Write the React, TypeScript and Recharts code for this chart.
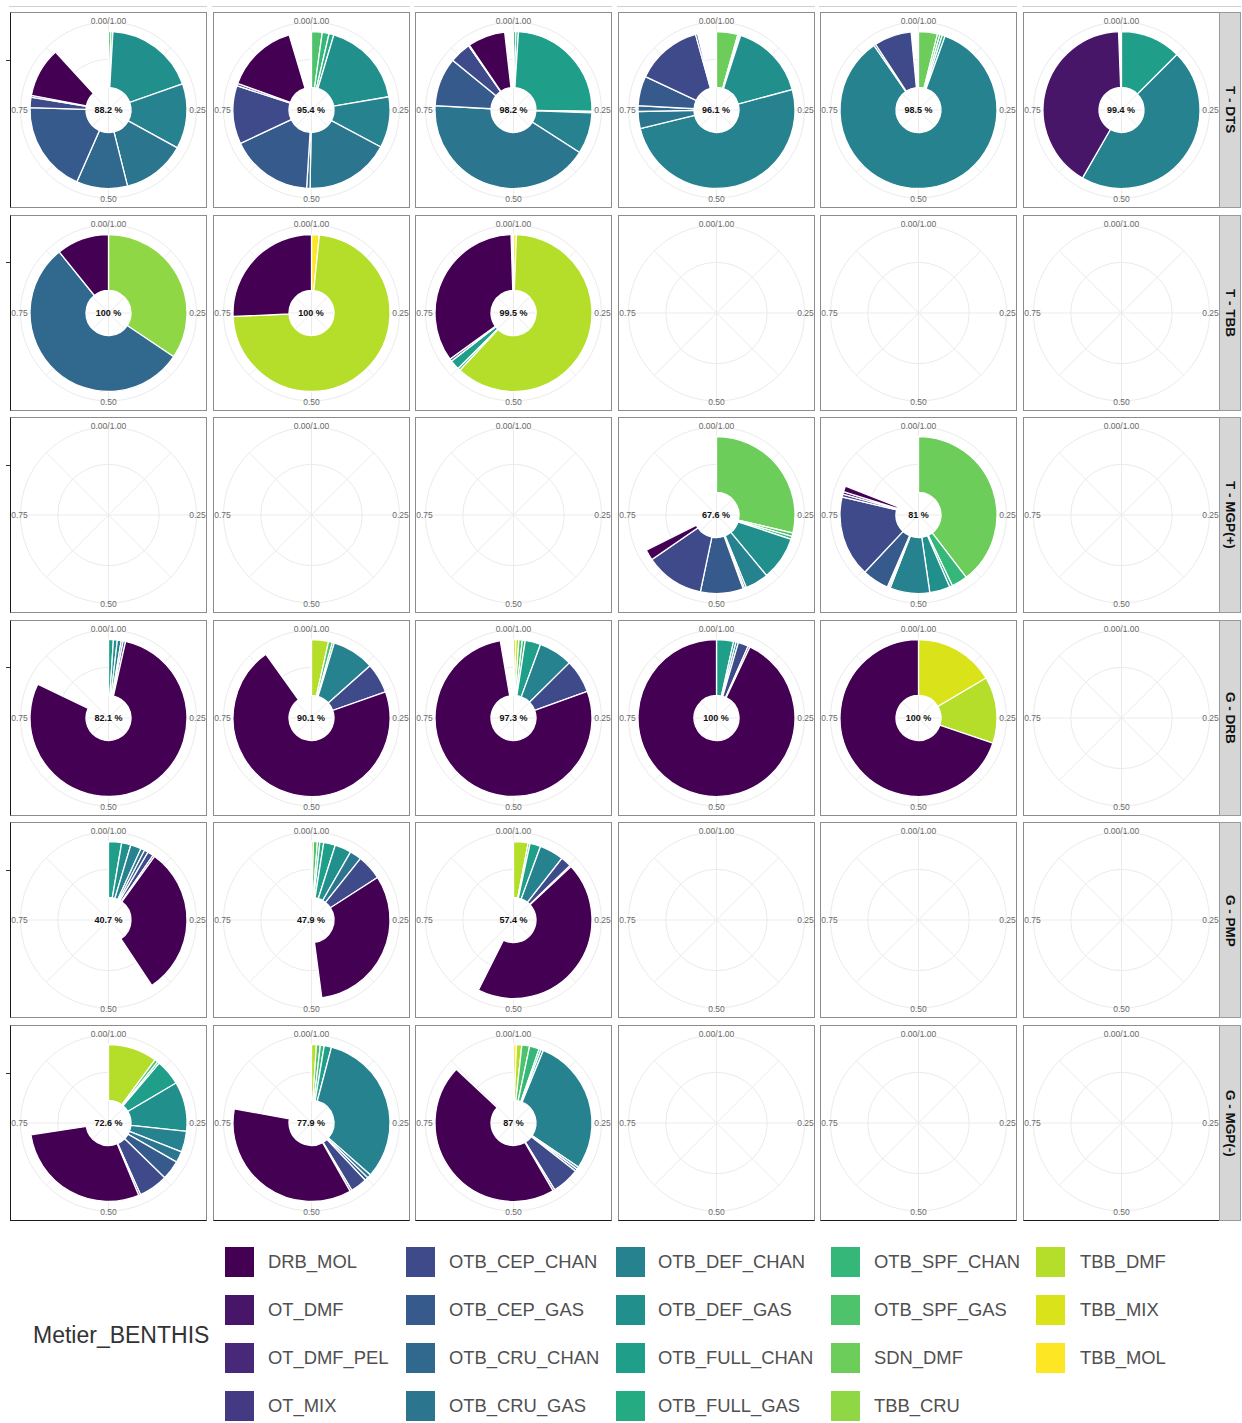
import React from 'react';
import { PieChart, Pie, Cell, PolarGrid, PolarAngleAxis } from 'recharts';

// ---------- categories ----------
const metiers = [
  'DRB_MOL', 'OT_DMF', 'OT_DMF_PEL', 'OT_MIX',
  'OTB_CEP_CHAN', 'OTB_CEP_GAS', 'OTB_CRU_CHAN', 'OTB_CRU_GAS',
  'OTB_DEF_CHAN', 'OTB_DEF_GAS', 'OTB_FULL_CHAN', 'OTB_FULL_GAS',
  'OTB_SPF_CHAN', 'OTB_SPF_GAS', 'SDN_DMF', 'TBB_CRU',
  'TBB_DMF', 'TBB_MIX', 'TBB_MOL',
];
// viridis(19)
const palette = [
  '#440154', '#481668', '#482878', '#443983', '#3e4a89', '#375a8c', '#31688e',
  '#2b758e', '#26828e', '#21908d', '#1f9e89', '#25ab82', '#35b779', '#4ec36b',
  '#6ccd5a', '#8fd744', '#b5de2b', '#dae319', '#fde725',
];
const facetRows = ['T - DTS', 'T - TBB', 'T - MGP(+)', 'G - DRB', 'G - PMP', 'G - MGP(-)'];
const angleBreaks = [0, 0.125, 0.25, 0.375, 0.5, 0.625, 0.75, 0.875];
const angleTicks = [0, 0.25, 0.5, 0.75];
const angleTickLabels = ['0.00/1.00', '0.25', '0.50', '0.75'];
const legendTitle = 'Metier_BENTHIS';

type Slice = [string, number];

// ---------- series values (share of the circle, clockwise from top) ----------
const dts1: Slice[] = [
  ['OTB_SPF_GAS', 0.005], ['OTB_SPF_CHAN', 0.004], ['OTB_DEF_GAS', 0.187], ['OTB_DEF_CHAN', 0.134],
  ['OTB_CRU_GAS', 0.131], ['OTB_CRU_CHAN', 0.105], ['OTB_CEP_GAS', 0.189], ['OTB_CEP_CHAN', 0.021],
  ['OT_MIX', 0.004], ['DRB_MOL', 0.102],
];
const dts2: Slice[] = [
  ['OTB_SPF_GAS', 0.022], ['OTB_SPF_CHAN', 0.014], ['OTB_FULL_GAS', 0.01], ['OTB_DEF_GAS', 0.177],
  ['OTB_DEF_CHAN', 0.105], ['OTB_CRU_GAS', 0.175], ['OTB_CRU_CHAN', 0.007], ['OTB_CEP_GAS', 0.17],
  ['OTB_CEP_CHAN', 0.12], ['OT_MIX', 0.005], ['DRB_MOL', 0.149],
];
const dts3: Slice[] = [
  ['OTB_SPF_CHAN', 0.005], ['OTB_FULL_GAS', 0.005], ['OTB_FULL_CHAN', 0.243], ['OTB_DEF_GAS', 0.003],
  ['OTB_DEF_CHAN', 0.085], ['OTB_CRU_GAS', 0.418], ['OTB_CEP_GAS', 0.1], ['OTB_CEP_CHAN', 0.044],
  ['OT_MIX', 0.002], ['DRB_MOL', 0.077],
];
const dts4: Slice[] = [
  ['SDN_DMF', 0.044], ['OTB_SPF_GAS', 0.003], ['OTB_SPF_CHAN', 0.003], ['OTB_DEF_GAS', 0.158],
  ['OTB_DEF_CHAN', 0.504], ['OTB_CRU_GAS', 0.035], ['OTB_CRU_CHAN', 0.012], ['OTB_CEP_GAS', 0.061],
  ['OTB_CEP_CHAN', 0.137], ['OT_MIX', 0.004],
];
const dts5: Slice[] = [
  ['SDN_DMF', 0.039], ['OTB_SPF_GAS', 0.005], ['OTB_SPF_CHAN', 0.005], ['OTB_FULL_GAS', 0.006],
  ['OTB_DEF_CHAN', 0.849], ['OTB_CRU_GAS', 0.004], ['OTB_CEP_CHAN', 0.077],
];
const dts6: Slice[] = [['OTB_FULL_CHAN', 0.125], ['OTB_DEF_CHAN', 0.458], ['OT_DMF', 0.411]];

const tbb1: Slice[] = [['TBB_CRU', 0.344], ['OTB_CRU_CHAN', 0.548], ['DRB_MOL', 0.108]];
const tbb2: Slice[] = [['TBB_MOL', 0.016], ['TBB_DMF', 0.727], ['DRB_MOL', 0.257]];
const tbb3: Slice[] = [
  ['TBB_MOL', 0.006], ['TBB_DMF', 0.614], ['OTB_SPF_CHAN', 0.005], ['OTB_FULL_CHAN', 0.02],
  ['OTB_CEP_CHAN', 0.005], ['DRB_MOL', 0.345],
];

const mgpp4: Slice[] = [
  ['SDN_DMF', 0.287], ['OTB_SPF_GAS', 0.007], ['OTB_SPF_CHAN', 0.006], ['OTB_DEF_GAS', 0.09],
  ['OTB_DEF_CHAN', 0.048], ['OTB_CRU_GAS', 0.004], ['OTB_CRU_CHAN', 0.003], ['OTB_CEP_GAS', 0.088],
  ['OTB_CEP_CHAN', 0.121], ['DRB_MOL', 0.022],
];
const mgpp5: Slice[] = [
  ['SDN_DMF', 0.396], ['OTB_SPF_CHAN', 0.033], ['OTB_FULL_GAS', 0.006], ['OTB_DEF_GAS', 0.042],
  ['OTB_DEF_CHAN', 0.082], ['OTB_CRU_GAS', 0.003], ['OTB_CRU_CHAN', 0.003], ['OTB_CEP_GAS', 0.055],
  ['OTB_CEP_CHAN', 0.167], ['OT_MIX', 0.006], ['OT_DMF', 0.005], ['DRB_MOL', 0.012],
];

const drb1: Slice[] = [
  ['OTB_FULL_CHAN', 0.01], ['OTB_DEF_GAS', 0.008], ['OTB_DEF_CHAN', 0.008], ['OTB_CRU_GAS', 0.004],
  ['OTB_CEP_CHAN', 0.005], ['DRB_MOL', 0.786],
];
const drb2: Slice[] = [
  ['TBB_DMF', 0.035], ['OTB_SPF_GAS', 0.008], ['OTB_FULL_GAS', 0.004], ['OTB_DEF_CHAN', 0.087],
  ['OTB_CEP_CHAN', 0.062], ['DRB_MOL', 0.705],
];
const drb3: Slice[] = [
  ['TBB_MIX', 0.005], ['TBB_DMF', 0.006], ['OTB_SPF_GAS', 0.007], ['OTB_SPF_CHAN', 0.006],
  ['OTB_FULL_CHAN', 0.032], ['OTB_DEF_CHAN', 0.07], ['OTB_CEP_CHAN', 0.069], ['DRB_MOL', 0.778],
];
const drb4: Slice[] = [
  ['OTB_FULL_CHAN', 0.035], ['OTB_DEF_GAS', 0.005], ['OTB_DEF_CHAN', 0.005], ['OTB_CEP_CHAN', 0.021],
  ['OT_MIX', 0.004], ['DRB_MOL', 0.93],
];
const drb5: Slice[] = [['TBB_MIX', 0.165], ['TBB_DMF', 0.137], ['DRB_MOL', 0.698]];

const pmp1: Slice[] = [
  ['OTB_FULL_CHAN', 0.027], ['OTB_DEF_GAS', 0.019], ['OTB_DEF_CHAN', 0.022], ['OTB_CRU_GAS', 0.008],
  ['OTB_CEP_GAS', 0.008], ['OTB_CEP_CHAN', 0.012], ['OT_MIX', 0.004], ['DRB_MOL', 0.307],
];
const pmp2: Slice[] = [
  ['TBB_DMF', 0.004], ['OTB_SPF_GAS', 0.008], ['OTB_SPF_CHAN', 0.005], ['OTB_FULL_GAS', 0.008],
  ['OTB_FULL_CHAN', 0.024], ['OTB_DEF_GAS', 0.034], ['OTB_CRU_GAS', 0.024], ['OTB_CEP_CHAN', 0.052],
  ['DRB_MOL', 0.32],
];
const pmp3: Slice[] = [
  ['TBB_DMF', 0.03], ['OTB_SPF_GAS', 0.004], ['OTB_FULL_CHAN', 0.022], ['OTB_DEF_CHAN', 0.05],
  ['OTB_CEP_CHAN', 0.022], ['OT_MIX', 0.003], ['DRB_MOL', 0.443],
];

const mgpm1: Slice[] = [
  ['TBB_DMF', 0.101], ['OTB_SPF_GAS', 0.007], ['OTB_SPF_CHAN', 0.004], ['OTB_FULL_CHAN', 0.053],
  ['OTB_DEF_GAS', 0.102], ['OTB_DEF_CHAN', 0.043], ['OTB_CRU_GAS', 0.023], ['OTB_CEP_GAS', 0.04],
  ['OTB_CEP_CHAN', 0.06], ['OT_MIX', 0.004], ['DRB_MOL', 0.289],
];
const mgpm2: Slice[] = [
  ['TBB_DMF', 0.01], ['OTB_SPF_GAS', 0.008], ['OTB_SPF_CHAN', 0.008], ['OTB_FULL_CHAN', 0.015],
  ['OTB_DEF_CHAN', 0.324], ['OTB_CRU_GAS', 0.008], ['OTB_CEP_GAS', 0.007], ['OTB_CEP_CHAN', 0.034],
  ['OT_MIX', 0.004], ['DRB_MOL', 0.361],
];
const mgpm3: Slice[] = [
  ['TBB_MOL', 0.006], ['TBB_DMF', 0.011], ['OTB_SPF_GAS', 0.016], ['OTB_SPF_CHAN', 0.02],
  ['OTB_FULL_GAS', 0.004], ['OTB_FULL_CHAN', 0.005], ['OTB_DEF_CHAN', 0.283], ['OTB_CRU_GAS', 0.005],
  ['OTB_CEP_GAS', 0.005], ['OTB_CEP_CHAN', 0.057], ['OT_MIX', 0.004], ['DRB_MOL', 0.454],
];

const panelGrid: (Slice[] | null)[][] = [
  [dts1, dts2, dts3, dts4, dts5, dts6],
  [tbb1, tbb2, tbb3, null, null, null],
  [null, null, null, mgpp4, mgpp5, null],
  [drb1, drb2, drb3, drb4, drb5, null],
  [pmp1, pmp2, pmp3, null, null, null],
  [mgpm1, mgpm2, mgpm3, null, null, null],
];

// ---------- layout ----------
const FONT = "'Liberation Sans', Arial, Helvetica, sans-serif";
const PANEL_W = 197;
const PANEL_H = 196;
const COL_X0 = 10;
const COL_STEP = 202.5;
const ROW_Y0 = 12;
const ROW_STEP = 202.6;
const GAP_KEY = '__gap__';

const renderAngleTick = (props: any) => {
  const { x, y, payload } = props;
  const idx = angleTicks.indexOf(payload.value);
  return (
    <text x={x} y={y} textAnchor="middle" dominantBaseline="central" fontSize={8.5} fill="#6a6a6a" fontFamily={FONT}>
      {idx >= 0 ? angleTickLabels[idx] : ''}
    </text>
  );
};

function Panel({ slices, row, col }: { slices: Slice[] | null; row: number; col: number }) {
  const left = COL_X0 + col * COL_STEP;
  const top = ROW_Y0 + row * ROW_STEP;
  const data = (slices || []).map(([m, v]) => ({ metier: m, share: v }));
  const total = data.reduce((s, d) => s + d.share, 0);
  if (total < 1) data.push({ metier: GAP_KEY, share: 1 - total });
  const label = slices ? `${Math.round(total * 1000) / 10} %` : null;
  const gridAngles = angleBreaks.map((b) => 90 - 360 * b);
  const w = PANEL_W - 2;
  const h = PANEL_H - 2;
  return (
    <div
      style={{
        position: 'absolute', left, top, width: PANEL_W, height: PANEL_H, boxSizing: 'border-box',
        border: '1px solid #8c8c8c',
        borderLeft: col === 0 ? '1.4px solid #1a1a1a' : '1px solid #8c8c8c',
        borderBottom: row === 5 ? '1.4px solid #1a1a1a' : '1px solid #8c8c8c',
        background: '#fff',
      }}
    >
      <PieChart width={w} height={h} margin={{ top: 0, right: 0, bottom: 0, left: 0 }}
        startAngle={90} endAngle={-270} innerRadius={0} outerRadius={88} cx="50%" cy="50%">
        <PolarGrid gridType="circle" polarAngles={gridAngles} polarRadius={[50.7, 88]} stroke="#ebebeb" strokeWidth={1} />
        <PolarAngleAxis type="number" dataKey="share" domain={[0, 1]} ticks={angleTicks} allowDataOverflow
          axisLine={false} tickLine={false} tickSize={1} tick={renderAngleTick} />
        <Pie data={data} dataKey="share" nameKey="metier" cx="50%" cy="50%" startAngle={90} endAngle={-270}
          innerRadius={22.5} outerRadius={78.5} stroke="#ffffff" strokeWidth={1.3} isAnimationActive={false}>
          {data.map((d, i) => (
            <Cell key={i}
              fill={d.metier === GAP_KEY ? 'none' : palette[metiers.indexOf(d.metier)]}
              stroke={d.metier === GAP_KEY ? 'none' : '#ffffff'} />
          ))}
        </Pie>
      </PieChart>
      {label && (
        <div style={{
          position: 'absolute', left: w / 2, top: h / 2, transform: 'translate(-50%, -50%)',
          fontFamily: FONT, fontSize: 9, fontWeight: 700, color: '#111', whiteSpace: 'nowrap',
        }}>{label}</div>
      )}
    </div>
  );
}

export default function App() {
  return (
    <div style={{ position: 'absolute', left: 0, top: 0, width: 1242, height: 1423, background: '#fff', overflow: 'hidden', fontFamily: FONT }}>
      {[0, 1, 2, 3, 4, 5].map((c) => (
        <div key={'tl' + c} style={{ position: 'absolute', left: COL_X0 + c * COL_STEP - 1, top: 6, width: c === 5 ? PANEL_W + 22 : PANEL_W + 1, height: 1, background: '#d0d0d0' }} />
      ))}
      {panelGrid.map((rowPanels, r) =>
        rowPanels.map((slices, c) => <Panel key={`${r}-${c}`} slices={slices} row={r} col={c} />)
      )}
      {facetRows.map((_, r) => (
        <div key={'tk' + r} style={{ position: 'absolute', left: 5.5, top: ROW_Y0 + r * ROW_STEP + 47.5, width: 4, height: 1.2, background: '#333' }} />
      ))}
      {facetRows.map((name, r) => (
        <div key={'st' + r} style={{
          position: 'absolute', left: COL_X0 + 5 * COL_STEP + PANEL_W - 0.5, top: ROW_Y0 + r * ROW_STEP,
          width: 22, height: PANEL_H, boxSizing: 'border-box', background: '#d6d6d6',
          border: '1px solid #9a9a9a', display: 'flex', alignItems: 'center', justifyContent: 'center',
        }}>
          <span style={{ writingMode: 'vertical-rl', fontFamily: FONT, fontWeight: 700, fontSize: 13.5, color: '#111', whiteSpace: 'nowrap' }}>{name}</span>
        </div>
      ))}
      <div style={{ position: 'absolute', left: 33, top: 1335, transform: 'translateY(-50%)', fontSize: 23, color: '#333', fontFamily: FONT, whiteSpace: 'nowrap' }}>
        {legendTitle}
      </div>
      {metiers.map((m, i) => {
        const col = Math.floor(i / 4);
        const row = i % 4;
        const sqX = [225, 406, 616, 831, 1036][col];
        const txX = [268, 449, 658, 874, 1080][col];
        const cy = 1262 + row * 48;
        return (
          <React.Fragment key={m}>
            <div style={{ position: 'absolute', left: sqX, top: cy - 15, width: 29, height: 30, background: palette[i] }} />
            <div style={{ position: 'absolute', left: txX, top: cy, transform: 'translateY(-50%)', fontSize: 18.4, color: '#505050', fontFamily: FONT, whiteSpace: 'nowrap' }}>{m}</div>
          </React.Fragment>
        );
      })}
    </div>
  );
}
